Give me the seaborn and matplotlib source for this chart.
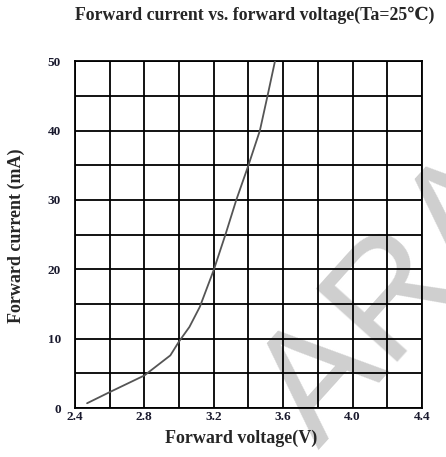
"""Curva corriente directa vs. tensión directa de un LED."""
import matplotlib
matplotlib.use("Agg")
import matplotlib.pyplot as plt
import seaborn as sns
import pandas as pd

# Datos
voltage = [2.47, 2.60, 2.80, 2.95, 3.00, 3.06, 3.12, 3.20, 3.27, 3.33, 3.40, 3.466, 3.51, 3.553]
current = [0.7, 2.3, 4.7, 7.6, 9.6, 11.7, 14.6, 19.9, 25.2, 30.0, 35.0, 40.0, 45.0, 50.0]

x_ticks = [2.4, 2.8, 3.2, 3.6, 4.0, 4.4]
x_grid = [2.4, 2.6, 2.8, 3.0, 3.2, 3.4, 3.6, 3.8, 4.0, 4.2, 4.4]
y_ticks = [0, 10, 20, 30, 40, 50]
y_grid = [0, 5, 10, 15, 20, 25, 30, 35, 40, 45, 50]

df = pd.DataFrame({"Voltage": voltage, "Current": current})

sns.set_theme(style="white")
plt.rcParams["font.family"] = ["Liberation Serif", "DejaVu Serif"]

fig = plt.figure(figsize=(4.46, 4.57), dpi=100)
ax = fig.add_axes([0.168, 0.107, 0.778, 0.759])
ax.set_facecolor("none")
ax.set_zorder(2)

# Marca de agua (detrás de la rejilla)
fig.text(0.892, 0.344, "ARA", ha="center", va="center", rotation=48,
         rotation_mode="anchor", fontsize=115, color="#cfcfcf",
         family="Liberation Sans", zorder=0)

# Rejilla negra
for gx in x_grid:
    ax.axvline(gx, color="black", linewidth=1.3, zorder=1)
for gy in y_grid:
    ax.axhline(gy, color="black", linewidth=1.3, zorder=1)

sns.lineplot(data=df, x="Voltage", y="Current", ax=ax, color="#555555",
             linewidth=1.3, sort=False, zorder=3)

ax.set_xlim(2.4, 4.4)
ax.set_ylim(0, 50)
ax.set_xticks(x_ticks)
ax.set_xticklabels([f"{v:.1f}" for v in x_ticks])
ax.set_yticks(y_ticks)
ax.set_yticklabels([str(v) for v in y_ticks])
ax.tick_params(axis="x", length=0, labelsize=9.5, pad=2)
ax.tick_params(axis="y", length=0, labelsize=9.5, pad=10)
for lbl in ax.get_xticklabels() + ax.get_yticklabels():
    lbl.set_fontweight("bold")
    lbl.set_color("#1a1a2e")

for sp in ax.spines.values():
    sp.set_color("black")
    sp.set_linewidth(1.3)

ax.set_xlabel("Forward voltage(V)", fontsize=13, fontweight="bold")
ax.set_ylabel("Forward current (mA)", fontsize=13, fontweight="bold")
ax.xaxis.set_label_coords(0.478, -0.063)
ax.yaxis.set_label_coords(-0.144, 0.496)
fig.text(0.572, 0.967, "Forward current vs. forward voltage(Ta=25\u2103)",
         ha="center", va="center", fontsize=12.8, fontweight="bold")

fig.savefig("out.png", dpi=100)
